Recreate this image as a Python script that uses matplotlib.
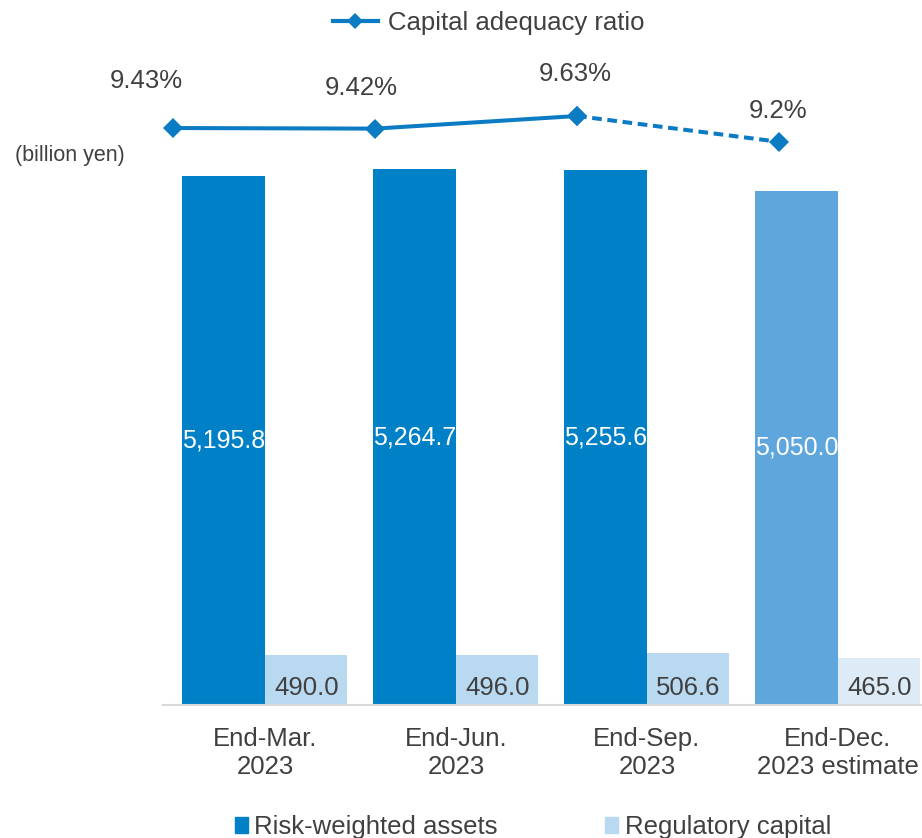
import numpy as np
import matplotlib.pyplot as plt
from matplotlib.patches import Patch
from matplotlib.lines import Line2D

plt.rcParams['font.family'] = ['Liberation Sans', 'DejaVu Sans']

periods = ['End-Mar.\n2023', 'End-Jun.\n2023', 'End-Sep.\n2023', 'End-Dec.\n2023 estimate']
rwa = [5195.8, 5264.7, 5255.6, 5050.0]
capital = [490.0, 496.0, 506.6, 465.0]
ratio = [9.43, 9.42, 9.63, 9.2]
ratio_labels = ['9.43%', '9.42%', '9.63%', '9.2%']
is_estimate = [False, False, False, True]

TXT = '#404040'
BLUE = '#0080C6'
BLUE_EST = '#5FA6DD'
LIGHT = '#B9D9F1'
LIGHT_EST = '#DDEBF7'
LINE = '#0B7BC3'
FS = 18.5

W, H = 922, 838
fig = plt.figure(figsize=(W / 100, H / 100), dpi=100)
rect = [163 / W, 133 / H, (922 - 163) / W, 605 / H]
ax = fig.add_axes(rect)

x = np.arange(len(periods))
bw = 0.432
ax.bar(x - bw / 2, rwa, bw, color=[BLUE_EST if e else BLUE for e in is_estimate])
ax.bar(x + bw / 2, capital, bw, color=[LIGHT_EST if e else LIGHT for e in is_estimate])
ax.set_xlim(-0.534, 3.44)
ax.set_ylim(0, 5943)

for xi, v in zip(x, rwa):
    ax.text(xi - bw / 2, v / 2, f'{v:,.1f}', ha='center', va='center',
            color='white', fontsize=18)
for xi, v in zip(x, capital):
    ax.text(xi + bw / 2, 50, f'{v:,.1f}', ha='center', va='bottom',
            color=TXT, fontsize=FS)

for s in ['top', 'right', 'left']:
    ax.spines[s].set_visible(False)
ax.spines['bottom'].set_color('#D9D9D9')
ax.spines['bottom'].set_linewidth(1.5)
ax.set_yticks([])
ax.set_xticks(x)
ax.set_xticklabels(periods, fontsize=FS, color=TXT, linespacing=1.22)
ax.tick_params(axis='x', length=0, pad=16)

# ratio line on its own overlay axes
lx = fig.add_axes(rect, facecolor='none')
lx.set_xlim(-0.0495, 3.708)
lx.set_ylim(-0.187, 9.897)
lx.axis('off')
lx.plot(x[:3], ratio[:3], color=LINE, lw=2.9, marker='D', ms=10, mew=0)
lx.plot(x[2:], ratio[2:], color=LINE, lw=2.9, ls=(0, (2.4, 1.4)), marker='D', ms=10, mew=0)
offsets = [(-27, 47), (-14, 41), (-2, 42), (-1, 31)]
for xi, v, lab, off in zip(x, ratio, ratio_labels, offsets):
    lx.annotate(lab, (xi, v), xytext=off, textcoords='offset pixels',
                ha='center', va='center', fontsize=FS, color=TXT)

fig.text(15 / W, 1 - 156 / H, '(billion yen)', fontsize=15.5, color=TXT,
         ha='left', va='center')

fig.legend(handles=[Line2D([], [], color=LINE, lw=3, marker='D', ms=8, mew=0)],
           labels=['Capital adequacy ratio'], loc='center',
           bbox_to_anchor=(0.53, 1 - 23 / H), frameon=False, fontsize=FS,
           labelcolor=TXT, handlelength=1.75, handletextpad=0.4)

fig.legend(handles=[Patch(color=BLUE), Patch(color=LIGHT)],
           labels=['Risk-weighted assets', 'Regulatory capital'], loc='center',
           bbox_to_anchor=(0.578, 11 / H), ncol=2, frameon=False, fontsize=FS,
           labelcolor=TXT, handlelength=0.5, handleheight=0.55,
           handletextpad=0.25, columnspacing=4.2)

fig.savefig('out.png', dpi=100)
